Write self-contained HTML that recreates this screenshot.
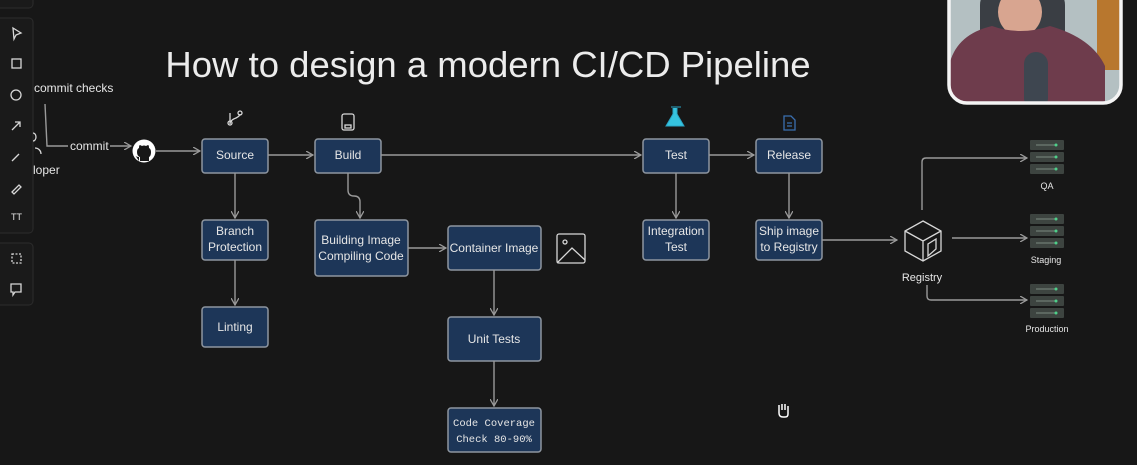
<!DOCTYPE html>
<html><head><meta charset="utf-8"><style>
html,body{margin:0;padding:0;background:#171717;width:1137px;height:465px;overflow:hidden}
svg{display:block}
text{font-family:"Liberation Sans",sans-serif;fill:#e6e6e6}
.b{fill:#1d3658;stroke:#8e96a0;stroke-width:1.5}
.l{stroke:#9a9a9a;stroke-width:1.4;fill:none}
.t{font-size:12px;text-anchor:middle}
.tb{fill:#1a1a1a;stroke:#2c2c2c;stroke-width:1}
.ic{stroke:#d8d8d8;stroke-width:1.3;fill:none}
</style></head><body>
<svg width="1137" height="465" viewBox="0 0 1137 465">
<defs><marker id="a" markerWidth="8" markerHeight="8" refX="7" refY="4" orient="auto" markerUnits="userSpaceOnUse"><path d="M0,0 L7,4 L0,8" fill="none" stroke="#9a9a9a" stroke-width="1.3"/></marker></defs>
<rect width="1137" height="465" fill="#171717"/>
<!-- toolbar -->
<rect class="tb" x="-5" y="-10" width="38" height="18" rx="4"/>
<rect class="tb" x="-5" y="18" width="38" height="215" rx="4"/>
<rect class="tb" x="-5" y="243" width="38" height="62" rx="4"/>
<path d="M13,28 L21,33 L16,35 L14,39 Z" class="ic"/>
<rect x="12" y="59" width="9" height="9" class="ic"/>
<circle cx="16" cy="95" r="5" class="ic"/>
<path d="M12,130 L20,122 M15,122 H20 V127" class="ic"/>
<path d="M12,161 L19,154" class="ic"/>
<path d="M12,192 L19,185 L21,187 L14,194 Z" class="ic"/>
<text x="11" y="220" style="font-size:9px">TT</text>
<rect x="12" y="254" width="9" height="9" class="ic" stroke-dasharray="2,1.5"/>
<path d="M11,284 H21 V292 H15 L13,295 V292 H11 Z" class="ic"/>
<!-- title -->
<text x="488" y="77" style="font-size:36.5px;text-anchor:middle;fill:#ececec">How to design a modern CI/CD Pipeline</text>
<!-- developer -->
<text x="34" y="92" style="font-size:12px">commit checks</text>
<path d="M45,104 L47,146 H68" class="l"/>
<text x="70" y="150" style="font-size:12px">commit</text>
<path d="M110,146 H131" class="l" marker-end="url(#a)"/>
<path d="M33,133 a3,4 0 0 1 0,8 M35,148 a6,6 0 0 1 6,6" class="ic"/>
<text x="33" y="174" style="font-size:12px">loper</text>
<!-- github -->
<circle cx="144" cy="151" r="11.5" fill="#fff"/>
<path d="M139,161 v-4 q-3,0 -4,-2 M149,161 v-4 q2,-1 2,-5 q0,-3 -2,-4 q0,-3 -1,-3 l-2,1 q-2,-1 -4,0 l-2,-1 q-1,0 -1,3 q-2,1 -2,4 q0,4 3,5 v4" fill="#171717"/>
<path d="M156,151 H200" class="l" marker-end="url(#a)"/>
<!-- icons -->
<path d="M230,113 V124 M230,124 q0,-4 6,-6 q4,-2 4,-4" class="ic"/><circle cx="230" cy="123" r="2" class="ic"/><circle cx="240" cy="113" r="2" class="ic"/>
<rect x="342" y="114" width="12" height="16" rx="2" class="ic"/><rect x="345" y="125" width="6" height="3" class="ic"/>
<path d="M671,107 h10 M673,108 v6 l-7,12 h18 l-7,-12 v-6" fill="#35c4e0" stroke="#2aa6c6"/>
<path d="M784,116 h7 l4,4 v10 h-11 z M787,123 h5 M787,126 h5" stroke="#3a6fb0" stroke-width="1.3" fill="none"/>
<!-- boxes -->
<rect class="b" x="202" y="139" width="66" height="34" rx="3"/><text class="t" x="235" y="159">Source</text>
<rect class="b" x="315" y="139" width="66" height="34" rx="3"/><text class="t" x="348" y="159">Build</text>
<rect class="b" x="202" y="220" width="66" height="40" rx="3"/><text class="t" x="235" y="235">Branch</text><text class="t" x="235" y="251">Protection</text>
<rect class="b" x="202" y="307" width="66" height="40" rx="3"/><text class="t" x="235" y="331">Linting</text>
<rect class="b" x="315" y="220" width="93" height="56" rx="3"/><text class="t" x="361" y="244">Building Image</text><text class="t" x="361" y="260">Compiling Code</text>
<rect class="b" x="448" y="226" width="93" height="44" rx="3"/><text class="t" x="494" y="252">Container Image</text>
<rect class="b" x="448" y="317" width="93" height="44" rx="3"/><text class="t" x="494" y="343">Unit Tests</text>
<rect class="b" x="448" y="408" width="93" height="44" rx="3"/><text class="t" x="494" y="426" style="font-family:'Liberation Mono',monospace;font-size:10.5px">Code Coverage</text><text class="t" x="494" y="442" style="font-family:'Liberation Mono',monospace;font-size:10.5px">Check 80-90%</text>
<rect class="b" x="643" y="139" width="66" height="34" rx="3"/><text class="t" x="676" y="159">Test</text>
<rect class="b" x="756" y="139" width="66" height="34" rx="3"/><text class="t" x="789" y="159">Release</text>
<rect class="b" x="643" y="220" width="66" height="40" rx="3"/><text class="t" x="676" y="235">Integration</text><text class="t" x="676" y="251">Test</text>
<rect class="b" x="756" y="220" width="66" height="40" rx="3"/><text class="t" x="789" y="235">Ship image</text><text class="t" x="789" y="251">to Registry</text>
<!-- image icon -->
<rect x="557" y="234" width="28" height="29" rx="2" class="ic"/><circle cx="565" cy="242" r="2" class="ic"/><path d="M557,263 L572,248 L585,260" class="ic"/>
<!-- connectors -->
<path d="M268,155 H313" class="l" marker-end="url(#a)"/>
<path d="M381,155 H641" class="l" marker-end="url(#a)"/>
<path d="M709,155 H754" class="l" marker-end="url(#a)"/>
<path d="M235,173 V218" class="l" marker-end="url(#a)"/>
<path d="M235,260 V305" class="l" marker-end="url(#a)"/>
<path d="M348,173 V190 q0,6 6,6 q6,0 6,6 V218" class="l" marker-end="url(#a)"/>
<path d="M408,248 H446" class="l" marker-end="url(#a)"/>
<path d="M494,270 V315" class="l" marker-end="url(#a)"/>
<path d="M494,361 V406" class="l" marker-end="url(#a)"/>
<path d="M676,173 V218" class="l" marker-end="url(#a)"/>
<path d="M789,173 V218" class="l" marker-end="url(#a)"/>
<path d="M822,240 H897" class="l" marker-end="url(#a)"/>
<!-- registry -->
<path d="M923,221 L941,231 V251 L923,261 L905,251 V231 Z M905,231 L923,241 L941,231 M923,241 V261 M928,256 V244 L936,239 V249 Z" class="ic" stroke-width="1.6"/>
<text x="922" y="281" style="font-size:11px;text-anchor:middle">Registry</text>
<path d="M922,210 V162 q0,-4 4,-4 H1027" class="l" marker-end="url(#a)"/>
<path d="M952,238 H1027" class="l" marker-end="url(#a)"/>
<path d="M927,285 V296 q0,4 4,4 H1027" class="l" marker-end="url(#a)"/>
<!-- servers -->
<g id="s"><rect x="1030" y="140" width="34" height="10" rx="1" fill="#3d4440"/><rect x="1030" y="152" width="34" height="10" rx="1" fill="#3d4440"/><rect x="1030" y="164" width="34" height="10" rx="1" fill="#3d4440"/>
<path d="M1036,145 H1055 M1036,157 H1055 M1036,169 H1055" stroke="#7a8a80" stroke-width="1"/>
<circle cx="1056" cy="145" r="1.5" fill="#4ed08a"/><circle cx="1056" cy="157" r="1.5" fill="#4ed08a"/><circle cx="1056" cy="169" r="1.5" fill="#4ed08a"/></g>
<use href="#s" y="74"/><use href="#s" y="144"/>
<text x="1047" y="189" style="font-size:9px;text-anchor:middle">QA</text>
<text x="1046" y="263" style="font-size:9px;text-anchor:middle">Staging</text>
<text x="1047" y="332" style="font-size:9px;text-anchor:middle">Production</text>
<!-- hand cursor -->
<path d="M779,405 v8 q0,4 4,4 h2 q3,0 3,-3 v-7 M782,404 v6 M785,404 v6 M788,406 v4" stroke="#fff" stroke-width="1.5" fill="none"/>
<!-- webcam -->
<defs><clipPath id="c"><rect x="949" y="-20" width="172" height="123" rx="18"/></clipPath></defs>
<g clip-path="url(#c)">
<rect x="940" y="-20" width="190" height="130" fill="#b4c0c2"/>
<rect x="1097" y="-20" width="25" height="90" fill="#b8772e"/>
<path d="M980,45 V5 q0,-15 20,-15 h45 q20,0 20,15 v40 z" fill="#3a3e44"/>
<ellipse cx="1020" cy="12" rx="22" ry="24" fill="#d8a590"/>
<path d="M950,110 V62 q8,-28 42,-36 q28,10 58,0 q42,12 55,40 V110 z" fill="#6e3c4c"/>
<rect x="1024" y="52" width="24" height="58" rx="12" fill="#3e4650"/>
</g>
<rect x="949" y="-20" width="172" height="123" rx="18" fill="none" stroke="#f4f4f4" stroke-width="3.5"/>
</svg>
</body></html>
